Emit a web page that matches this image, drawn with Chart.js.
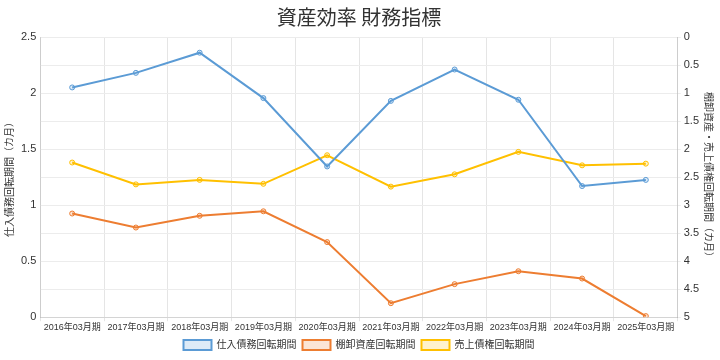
<!DOCTYPE html>
<html><head><meta charset="utf-8">
<script src="https://cdn.jsdelivr.net/npm/chart.js@4.4.1/dist/chart.umd.min.js"></script>
<style>html,body{margin:0;padding:0;background:#fff}#wrap{width:720px;height:360px}</style>
</head><body><div id="wrap"><canvas id="c"></canvas></div>
<script>
const categories = ["2016年03月期","2017年03月期","2018年03月期","2019年03月期","2020年03月期","2021年03月期","2022年03月期","2023年03月期","2024年03月期","2025年03月期"];
const payablesTurnover = [2.05,2.18,2.36,1.955,1.345,1.93,2.21,1.94,1.17,1.225];
const inventoryTurnover = [3.15,3.40,3.19,3.11,3.66,4.75,4.41,4.18,4.31,4.98];
const receivablesTurnover = [2.24,2.63,2.55,2.62,2.11,2.67,2.45,2.05,2.29,2.26];
const seriesNames = ["仕入債務回転期間","棚卸資産回転期間","売上債権回転期間"];
const titleText = "資産効率 財務指標";
const leftAxisTitle = "仕入債務回転期間（カ月）";
const rightAxisTitle = "棚卸資産・売上債権回転期間（カ月）";

const FONT = "'Liberation Sans','Noto Sans CJK JP',sans-serif";
Chart.defaults.font.family = FONT;
Chart.defaults.color = "#333";

function ds(label, data, color, fill, axis){
  return {label, data, yAxisID: axis, borderColor: color, backgroundColor: fill,
    borderWidth: 2, pointRadius: 2.5, pointBorderWidth: 1, pointBackgroundColor: fill,
    pointBorderColor: color, tension: 0};
}
const fmt = v => String(v);
new Chart(document.getElementById('c'), {
  type: 'line',
  data: {
    labels: categories,
    datasets: [
      ds(seriesNames[0], payablesTurnover, '#5B9BD5', 'rgba(91,155,213,0.2)', 'yL'),
      ds(seriesNames[1], inventoryTurnover, '#ED7D31', 'rgba(237,125,49,0.2)', 'yR'),
      ds(seriesNames[2], receivablesTurnover, '#FFC000', 'rgba(255,192,0,0.2)', 'yR')
    ]
  },
  options: {
    responsive: true, maintainAspectRatio: false, animation: false,
    layout: {padding: {left: 2, right: 4, top: 0, bottom: 0}},
    plugins: {
      title: {display: true, text: titleText, font: {size: 20, weight: 'normal', family: "'Noto Sans CJK JP',sans-serif"}, color: '#333', padding: {top: 5, bottom: 8}},
      legend: {position: 'bottom', labels: {boxWidth: 28, boxHeight: 10, font: {size: 10}, padding: 6}},
      tooltip: {enabled: false}
    },
    scales: {
      x: {offset: true, grid: {offset: true, color: '#e5e5e5', tickLength: 4}, ticks: {font: {size: 9}, maxRotation: 0, autoSkip: false, color: '#333', padding: 1}},
      yL: {position: 'left', min: 0, max: 2.5, ticks: {stepSize: 0.5, font: {size: 11}, color: '#333', padding: 4, callback: fmt},
        grid: {color: '#dedede', drawTicks: false},
        title: {display: true, text: leftAxisTitle, font: {size: 10}, color: '#333', padding: {top: 2, bottom: 1}}},
      yR: {position: 'right', min: 0, max: 5, reverse: true, ticks: {stepSize: 0.5, font: {size: 11}, color: '#333', padding: 3, callback: fmt},
        grid: {color: '#ececec', tickLength: 3},
        title: {display: true, text: rightAxisTitle, font: {size: 10}, color: '#333', padding: {top: 2, bottom: 0}}}
    }
  }
});
</script></body></html>
